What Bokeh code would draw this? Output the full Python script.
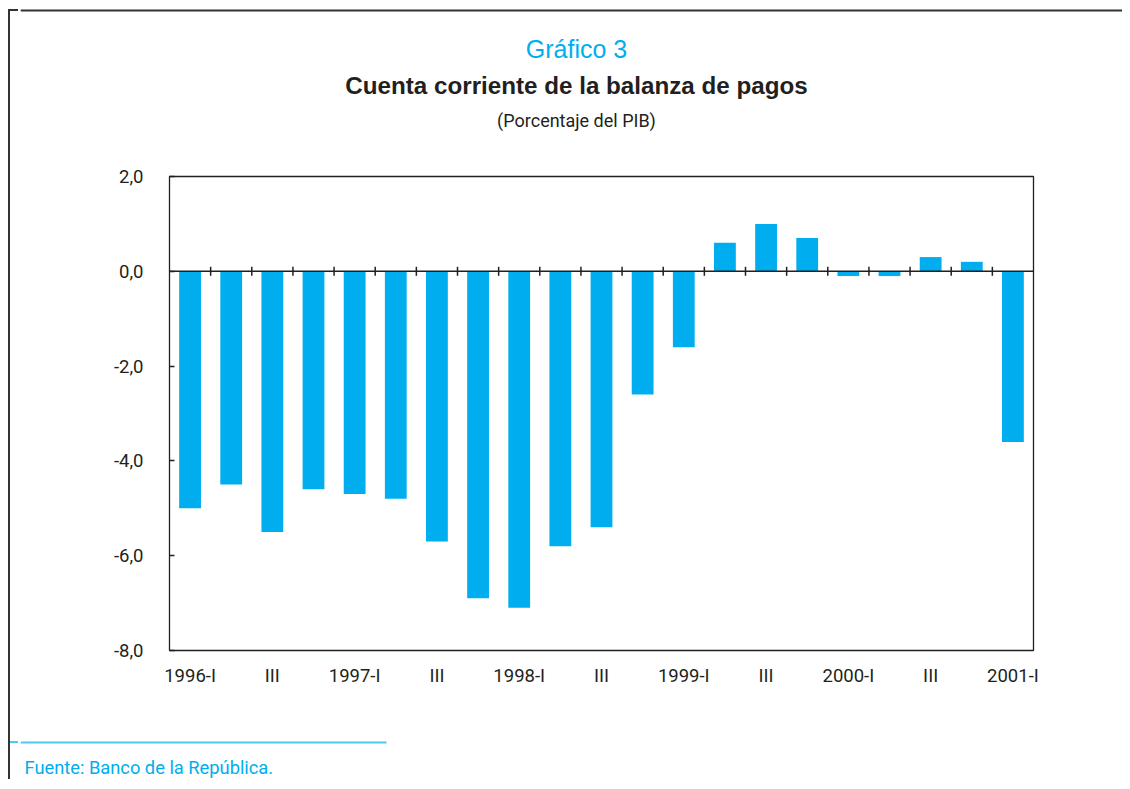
from bokeh.plotting import figure
from bokeh.layouts import column, row
from bokeh.models import (Range1d, FixedTicker, CustomJSTickFormatter,
                          Span, Label, ColumnDataSource, Div)
from bokeh.embed import file_html
from bokeh.resources import INLINE

# ---------------- data ----------------
quarters = ["1996-I", "1996-II", "1996-III", "1996-IV",
            "1997-I", "1997-II", "1997-III", "1997-IV",
            "1998-I", "1998-II", "1998-III", "1998-IV",
            "1999-I", "1999-II", "1999-III", "1999-IV",
            "2000-I", "2000-II", "2000-III", "2000-IV",
            "2001-I"]
tick_labels = ["1996-I", "", "III", "",
               "1997-I", "", "III", "",
               "1998-I", "", "III", "",
               "1999-I", "", "III", "",
               "2000-I", "", "III", "",
               "2001-I"]
cuenta_corriente = [-5.0, -4.5, -5.5, -4.6,
                    -4.7, -4.8, -5.7, -6.9,
                    -7.1, -5.8, -5.4, -2.6,
                    -1.6, 0.6, 1.0, 0.7,
                    -0.1, -0.1, 0.3, 0.2,
                    -3.6]
y_ticks = [-8, -6, -4, -2, 0, 2]

title_1 = "Gráfico 3"
title_2 = "Cuenta corriente de la balanza de pagos"
title_3 = "(Porcentaje del PIB)"
fuente = "Fuente: Banco de la República."

# ---------------- styles / layout ----------------
CYAN = "#00AEEF"
CYAN_LINE = "#4FC8F2"
DARK = "#231F20"
BORDER = "#333333"
NARROW = "Roboto"
SANS = "Liberation Sans"

W, H = 1122, 781
FL, FT, FR, FB = 169, 176, 1033, 650   # frame edges (px)
MAIN_TOP = 150                          # top of the main chart block
MAIN_BOTTOM = 706                       # bottom of the main chart block
STRIP = 20                              # left strip holding the outer border
BORDER_X, BORDER_Y = 9, 10
FOOT_LINE_Y, FOOT_LINE_X1 = 742, 386
YMIN, YMAX = -8, 2
n = len(quarters)


def canvas(w, h, y0, y1, x0):
    """A bare figure whose frame fills it, in page-pixel coordinates."""
    f = figure(width=w, height=h, x_range=Range1d(x0, x0 + w), y_range=Range1d(y1, y0),
               output_backend="svg", toolbar_location=None,
               x_axis_location=None, y_axis_location=None,
               min_border=0, min_border_left=0, min_border_right=0,
               min_border_top=0, min_border_bottom=0)
    f.outline_line_color = None
    f.xgrid.grid_line_color = None
    f.ygrid.grid_line_color = None
    f.background_fill_color = "white"
    f.border_fill_color = "white"
    return f


# ---------- left strip: outer frame corner (left + top edge) and start of footer rule ----------
inner_w = STRIP - (BORDER_X - 1) - 2
spacer = FOOT_LINE_Y - 1 - (BORDER_Y - 1) - 2
strip = Div(width=STRIP, height=H, margin=0, text=(
    f'<div style="margin-left:{BORDER_X - 1}px;margin-top:{BORDER_Y - 1}px;'
    f'width:{inner_w}px;height:{H - BORDER_Y - 1}px;'
    f'border-left:2px solid {BORDER};border-top:2px solid {BORDER};">'
    f'<div style="height:{spacer}px"></div>'
    f'<div style="height:2px;background:{CYAN_LINE}"></div></div>'))

# ---------- header ----------
top = canvas(W - STRIP, MAIN_TOP, 0, MAIN_TOP, STRIP)
top.segment(x0=[STRIP], y0=[BORDER_Y], x1=[W], y1=[BORDER_Y], line_color=BORDER, line_width=2)
top.add_layout(Label(x=576, y=48, text=title_1, text_align="center", text_baseline="middle",
                     text_font=SANS, text_font_size="25px", text_color=CYAN))
top.add_layout(Label(x=576, y=85, text=title_2, text_align="center", text_baseline="middle",
                     text_font=SANS, text_font_size="24.2px", text_font_style="bold",
                     text_color=DARK))
top.add_layout(Label(x=576, y=120, text=title_3, text_align="center", text_baseline="middle",
                     text_font=NARROW, text_font_size="18px", text_color=DARK))

# ---------- main chart ----------
p = figure(width=W - STRIP, height=MAIN_BOTTOM - MAIN_TOP, x_range=Range1d(0, n),
           y_range=Range1d(YMIN, YMAX), output_backend="svg", toolbar_location=None,
           min_border_left=FL - STRIP, min_border_right=W - FR,
           min_border_top=FT - MAIN_TOP, min_border_bottom=MAIN_BOTTOM - FB)
p.background_fill_color = "white"
p.border_fill_color = "white"
p.outline_line_color = DARK
p.outline_line_width = 1.3
p.xgrid.grid_line_color = None
p.ygrid.grid_line_color = None

slot_center = [i + 0.5 for i in range(n)]
src = ColumnDataSource(dict(x=slot_center, v=cuenta_corriente, q=quarters))
p.vbar(x="x", top="v", bottom=0, width=0.53, source=src,
       fill_color=CYAN, line_color=None)

p.add_layout(Span(location=0, dimension="width", line_color=DARK, line_width=1.5))
px_per_unit_y = (FB - FT) / (YMAX - YMIN)
tick_half = 4.5 / px_per_unit_y
bounds = [float(i) for i in range(1, n)]
p.segment(x0=bounds, x1=bounds, y0=[-tick_half] * len(bounds), y1=[tick_half] * len(bounds),
          line_color=DARK, line_width=1.5)

yax = p.yaxis[0]
yax.ticker = FixedTicker(ticks=y_ticks)
yax.formatter = CustomJSTickFormatter(code="return tick.toFixed(1).replace('.', ',');")
yax.axis_line_color = None
yax.major_tick_in = 5
yax.major_tick_out = 0
yax.major_tick_line_color = DARK
yax.major_tick_line_width = 1.3
yax.minor_tick_line_color = None
yax.major_label_text_font = NARROW
yax.major_label_text_font_size = "18.5px"
yax.major_label_text_color = DARK
yax.major_label_standoff = 26

xax = p.xaxis[0]
xax.ticker = FixedTicker(ticks=[c for c, t in zip(slot_center, tick_labels) if t])
xax.formatter = CustomJSTickFormatter(args=dict(labels=tick_labels),
                                      code="return labels[Math.floor(tick)];")
xax.axis_line_color = None
xax.major_tick_line_color = None
xax.minor_tick_line_color = None
xax.major_label_text_font = NARROW
xax.major_label_text_font_size = "18.5px"
xax.major_label_text_color = DARK
xax.major_label_standoff = 8

# ---------- footer ----------
foot = canvas(W - STRIP, H - MAIN_BOTTOM, MAIN_BOTTOM, H, STRIP)
foot.segment(x0=[STRIP], y0=[FOOT_LINE_Y], x1=[FOOT_LINE_X1], y1=[FOOT_LINE_Y],
             line_color=CYAN_LINE, line_width=2)
foot.add_layout(Label(x=24, y=767, text=fuente, text_align="left", text_baseline="middle",
                      text_font=NARROW, text_font_size="18.3px", text_color=CYAN))

# the main chart sits in its own row so its frame is not aligned with header/footer
layout = row(strip, column(top, row(p, spacing=0), foot, spacing=0), spacing=0)

open("out.html", "w").write(file_html(layout, INLINE))
